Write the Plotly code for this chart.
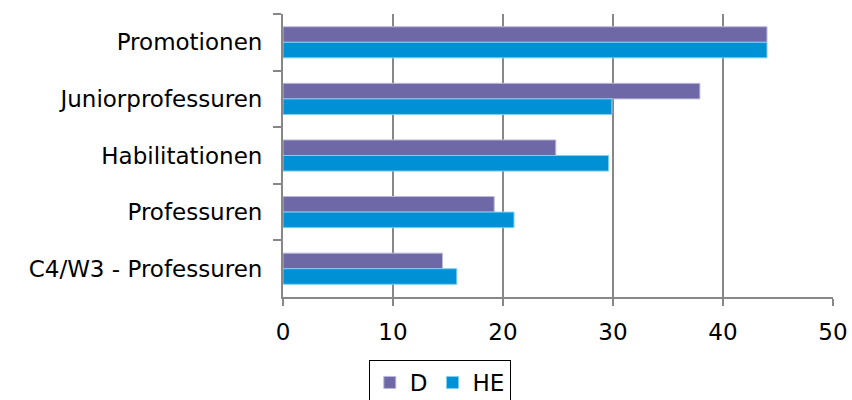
import plotly.graph_objects as go

# Kategorien (von oben nach unten) und Werte je Reihe
kategorien = ["Promotionen", "Juniorprofessuren", "Habilitationen",
              "Professuren", "C4/W3 - Professuren"]
werte_d = [44.0, 37.9, 24.8, 19.2, 14.5]
werte_he = [44.0, 29.9, 29.6, 21.0, 15.8]
x_ticks = [0, 10, 20, 30, 40, 50]

FONT = "DejaVu Sans"
GRAU = "#878787"

fig = go.Figure()
fig.add_trace(go.Bar(
    name="D", y=kategorien, x=werte_d, orientation="h",
    marker=dict(color="#6E68A6", line=dict(color="#BDB8DC", width=1)),
))
fig.add_trace(go.Bar(
    name="HE", y=kategorien, x=werte_he, orientation="h",
    marker=dict(color="#0090D5", line=dict(color="#7FCFF2", width=1)),
))

fig.update_layout(
    width=852, height=400,
    margin=dict(l=283, r=19, t=14, b=103, autoexpand=False),
    paper_bgcolor="white", plot_bgcolor="white",
    barmode="group", bargap=0.45, bargroupgap=0,
    font=dict(family=FONT, size=23, color="black"),
    showlegend=True,
    legend=dict(
        orientation="h", x=0.156, xanchor="left",
        yref="container", y=40 / 400, yanchor="top",
        bordercolor="black", borderwidth=1, bgcolor="white",
        font=dict(family=FONT, size=23, color="black"),
        itemwidth=30, tracegroupgap=0,
    ),
)

fig.update_xaxes(
    range=[0, 50], tickvals=x_ticks, ticktext=[str(v) for v in x_ticks],
    showgrid=True, gridcolor=GRAU, gridwidth=2,
    showline=True, linecolor=GRAU, linewidth=2,
    ticks="outside", ticklen=7, tickwidth=2, tickcolor=GRAU,
    ticklabelstandoff=6, zeroline=False,
)
fig.update_yaxes(
    categoryorder="array", categoryarray=kategorien, autorange="reversed",
    showgrid=False, showline=True, linecolor=GRAU, linewidth=2,
    ticks="outside", tickson="boundaries", ticklen=8, tickwidth=2,
    tickcolor=GRAU, ticklabelstandoff=14,
)

fig.write_html("out.html")
